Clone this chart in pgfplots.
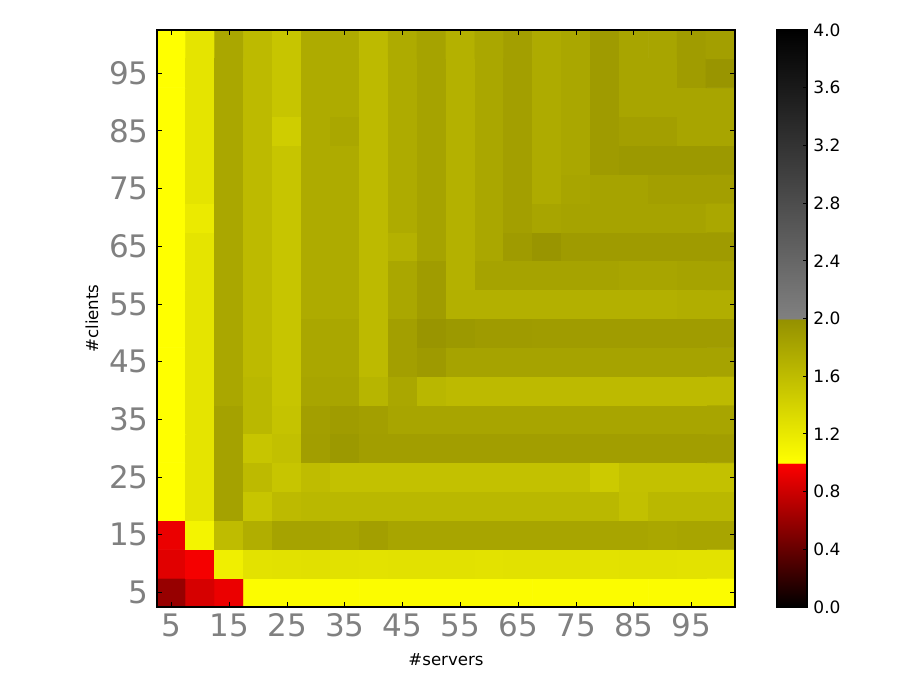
\documentclass[border=0pt]{standalone}
\usepackage{pgfplots}
\pgfplotsset{compat=1.18}
\usepackage{fontspec}
\setmainfont{DejaVu Sans}
\definecolor{tickgray}{RGB}{128,128,128}

\begin{document}
\begin{tikzpicture}
\fill[white, use as bounding box] (-78.5pt,-41.5pt) rectangle (381.5pt,303.5pt);
\begin{axis}[
  at={(0,0)}, anchor=south west,
  scale only axis, width=289pt, height=288.5pt,
  xmin=2.5, xmax=102.5, ymin=2.5, ymax=102.5,
  xtick={5,15,25,35,45,55,65,75,85,95}, ytick={5,15,25,35,45,55,65,75,85,95},
  xticklabels={5,15,25,35,45,55,65,75,85,95},
  yticklabels={5,15,25,35,45,55,65,75,85,95},
  /pgf/number format/assume math mode=true,
  tick align=inside, major tick length=2.5pt,
  tick style={black, line width=0.5pt},
  axis line style={line width=0.65pt},
  ticklabel style={font=\fontsize{15.5}{16}\selectfont, text=tickgray},
  xticklabel style={inner xsep=0pt, inner ysep=3pt},
  yticklabel style={inner ysep=0pt, inner xsep=4pt},
  xlabel={\#servers}, ylabel={\#clients},
  label style={font=\fontsize{8.3}{9}\selectfont},
  xlabel style={at={(axis description cs:0.5,-0.0919)}, anchor=center},
  ylabel style={at={(axis description cs:-0.1125,0.5)}, anchor=center},
  axis on top,
  colormap={hm}{rgb255(0pt)=(0,0,0); rgb255(999pt)=(255,0,0); rgb255(1000pt)=(255,255,0); rgb255(1999pt)=(148,144,0); rgb255(2000pt)=(128,128,128); rgb255(4000pt)=(0,0,0)},
  point meta min=0, point meta max=4,
  colorbar right,
  colorbar style={
    at={(parent axis.north east)}, anchor=north west, xshift=12.5pt,
    scale only axis, width=15pt, height=288.5pt,
    ytick={0,0.4,0.8,1.2,1.6,2.0,2.4,2.8,3.2,3.6,4.0},
    yticklabels={0.0,0.4,0.8,1.2,1.6,2.0,2.4,2.8,3.2,3.6,4.0},
    ytick pos=right, yticklabel pos=right,
    tick align=inside, major tick length=2pt,
    axis line style={line width=0.65pt},
    yticklabel style={font=\fontsize{8.5}{10}\selectfont, text=black, inner xsep=3pt, inner ysep=0pt},
  },
]
\addplot[matrix plot*, mesh/cols=20, point meta=explicit] coordinates {
(5,5)[0.59] (10,5)[0.84] (15,5)[0.92] (20,5)[1.03] (25,5)[1.03] (30,5)[1.03] (35,5)[1.03] (40,5)[1.03] (45,5)[1.03] (50,5)[1.03] (55,5)[1.03] (60,5)[1.03] (65,5)[1.03] (70,5)[1.03] (75,5)[1.03] (80,5)[1.03] (85,5)[1.03] (90,5)[1.03] (95,5)[1.03] (100,5)[1.03]
(5,10)[0.88] (10,10)[0.96] (15,10)[1.14] (20,10)[1.26] (25,10)[1.27] (30,10)[1.28] (35,10)[1.27] (40,10)[1.26] (45,10)[1.27] (50,10)[1.27] (55,10)[1.27] (60,10)[1.26] (65,10)[1.27] (70,10)[1.27] (75,10)[1.27] (80,10)[1.26] (85,10)[1.27] (90,10)[1.27] (95,10)[1.26] (100,10)[1.26]
(5,15)[0.92] (10,15)[1.10] (15,15)[1.60] (20,15)[1.73] (25,15)[1.83] (30,15)[1.83] (35,15)[1.81] (40,15)[1.86] (45,15)[1.81] (50,15)[1.81] (55,15)[1.81] (60,15)[1.81] (65,15)[1.81] (70,15)[1.81] (75,15)[1.81] (80,15)[1.81] (85,15)[1.81] (90,15)[1.79] (95,15)[1.81] (100,15)[1.81]
(5,20)[1.00] (10,20)[1.24] (15,20)[1.84] (20,20)[1.52] (25,20)[1.62] (30,20)[1.64] (35,20)[1.64] (40,20)[1.64] (45,20)[1.64] (50,20)[1.64] (55,20)[1.64] (60,20)[1.64] (65,20)[1.64] (70,20)[1.64] (75,20)[1.64] (80,20)[1.64] (85,20)[1.57] (90,20)[1.64] (95,20)[1.64] (100,20)[1.64]
(5,25)[1.00] (10,25)[1.24] (15,25)[1.84] (20,25)[1.62] (25,25)[1.52] (30,25)[1.60] (35,25)[1.56] (40,25)[1.56] (45,25)[1.56] (50,25)[1.56] (55,25)[1.56] (60,25)[1.56] (65,25)[1.56] (70,25)[1.56] (75,25)[1.56] (80,25)[1.48] (85,25)[1.56] (90,25)[1.56] (95,25)[1.56] (100,25)[1.56]
(5,30)[1.00] (10,30)[1.24] (15,30)[1.84] (20,30)[1.52] (25,30)[1.57] (30,30)[1.87] (35,30)[1.92] (40,30)[1.87] (45,30)[1.87] (50,30)[1.87] (55,30)[1.87] (60,30)[1.87] (65,30)[1.87] (70,30)[1.87] (75,30)[1.87] (80,30)[1.87] (85,30)[1.87] (90,30)[1.87] (95,30)[1.87] (100,30)[1.87]
(5,35)[1.00] (10,35)[1.24] (15,35)[1.84] (20,35)[1.64] (25,35)[1.54] (30,35)[1.86] (35,35)[1.89] (40,35)[1.86] (45,35)[1.81] (50,35)[1.81] (55,35)[1.81] (60,35)[1.81] (65,35)[1.81] (70,35)[1.81] (75,35)[1.81] (80,35)[1.81] (85,35)[1.81] (90,35)[1.81] (95,35)[1.81] (100,35)[1.81]
(5,40)[1.00] (10,40)[1.24] (15,40)[1.79] (20,40)[1.64] (25,40)[1.52] (30,40)[1.81] (35,40)[1.81] (40,40)[1.67] (45,40)[1.79] (50,40)[1.65] (55,40)[1.62] (60,40)[1.62] (65,40)[1.62] (70,40)[1.62] (75,40)[1.62] (80,40)[1.62] (85,40)[1.62] (90,40)[1.62] (95,40)[1.62] (100,40)[1.62]
(5,45)[1.00] (10,45)[1.24] (15,45)[1.79] (20,45)[1.62] (25,45)[1.52] (30,45)[1.79] (35,45)[1.79] (40,45)[1.62] (45,45)[1.86] (50,45)[1.91] (55,45)[1.83] (60,45)[1.83] (65,45)[1.83] (70,45)[1.83] (75,45)[1.83] (80,45)[1.83] (85,45)[1.83] (90,45)[1.83] (95,45)[1.83] (100,45)[1.83]
(5,50)[1.00] (10,50)[1.24] (15,50)[1.79] (20,50)[1.62] (25,50)[1.52] (30,50)[1.79] (35,50)[1.79] (40,50)[1.62] (45,50)[1.86] (50,50)[1.95] (55,50)[1.92] (60,50)[1.90] (65,50)[1.90] (70,50)[1.89] (75,50)[1.89] (80,50)[1.89] (85,50)[1.89] (90,50)[1.89] (95,50)[1.89] (100,50)[1.89]
(5,55)[1.00] (10,55)[1.24] (15,55)[1.79] (20,55)[1.62] (25,55)[1.52] (30,55)[1.76] (35,55)[1.76] (40,55)[1.62] (45,55)[1.79] (50,55)[1.89] (55,55)[1.71] (60,55)[1.71] (65,55)[1.71] (70,55)[1.71] (75,55)[1.71] (80,55)[1.71] (85,55)[1.71] (90,55)[1.71] (95,55)[1.73] (100,55)[1.73]
(5,60)[1.00] (10,60)[1.24] (15,60)[1.79] (20,60)[1.62] (25,60)[1.52] (30,60)[1.76] (35,60)[1.76] (40,60)[1.62] (45,60)[1.79] (50,60)[1.89] (55,60)[1.70] (60,60)[1.83] (65,60)[1.83] (70,60)[1.83] (75,60)[1.83] (80,60)[1.83] (85,60)[1.81] (90,60)[1.81] (95,60)[1.83] (100,60)[1.83]
(5,65)[1.00] (10,65)[1.24] (15,65)[1.79] (20,65)[1.62] (25,65)[1.52] (30,65)[1.76] (35,65)[1.76] (40,65)[1.62] (45,65)[1.70] (50,65)[1.83] (55,65)[1.70] (60,65)[1.79] (65,65)[1.90] (70,65)[1.95] (75,65)[1.90] (80,65)[1.90] (85,65)[1.90] (90,65)[1.90] (95,65)[1.90] (100,65)[1.90]
(5,70)[1.00] (10,70)[1.19] (15,70)[1.79] (20,70)[1.62] (25,70)[1.52] (30,70)[1.76] (35,70)[1.76] (40,70)[1.62] (45,70)[1.76] (50,70)[1.83] (55,70)[1.70] (60,70)[1.79] (65,70)[1.86] (70,70)[1.81] (75,70)[1.83] (80,70)[1.83] (85,70)[1.83] (90,70)[1.83] (95,70)[1.83] (100,70)[1.79]
(5,75)[1.00] (10,75)[1.24] (15,75)[1.79] (20,75)[1.62] (25,75)[1.52] (30,75)[1.76] (35,75)[1.76] (40,75)[1.62] (45,75)[1.76] (50,75)[1.83] (55,75)[1.70] (60,75)[1.79] (65,75)[1.86] (70,75)[1.76] (75,75)[1.81] (80,75)[1.83] (85,75)[1.83] (90,75)[1.86] (95,75)[1.86] (100,75)[1.86]
(5,80)[1.00] (10,80)[1.24] (15,80)[1.79] (20,80)[1.62] (25,80)[1.52] (30,80)[1.76] (35,80)[1.76] (40,80)[1.62] (45,80)[1.76] (50,80)[1.83] (55,80)[1.70] (60,80)[1.79] (65,80)[1.86] (70,80)[1.76] (75,80)[1.79] (80,80)[1.90] (85,80)[1.92] (90,80)[1.92] (95,80)[1.92] (100,80)[1.92]
(5,85)[1.00] (10,85)[1.24] (15,85)[1.79] (20,85)[1.62] (25,85)[1.45] (30,85)[1.76] (35,85)[1.79] (40,85)[1.62] (45,85)[1.76] (50,85)[1.83] (55,85)[1.70] (60,85)[1.79] (65,85)[1.86] (70,85)[1.76] (75,85)[1.79] (80,85)[1.90] (85,85)[1.86] (90,85)[1.86] (95,85)[1.81] (100,85)[1.81]
(5,90)[1.00] (10,90)[1.24] (15,90)[1.79] (20,90)[1.62] (25,90)[1.52] (30,90)[1.76] (35,90)[1.76] (40,90)[1.62] (45,90)[1.76] (50,90)[1.83] (55,90)[1.70] (60,90)[1.79] (65,90)[1.86] (70,90)[1.76] (75,90)[1.79] (80,90)[1.90] (85,90)[1.81] (90,90)[1.81] (95,90)[1.81] (100,90)[1.81]
(5,95)[1.00] (10,95)[1.24] (15,95)[1.79] (20,95)[1.62] (25,95)[1.52] (30,95)[1.76] (35,95)[1.76] (40,95)[1.62] (45,95)[1.76] (50,95)[1.83] (55,95)[1.70] (60,95)[1.79] (65,95)[1.86] (70,95)[1.76] (75,95)[1.79] (80,95)[1.90] (85,95)[1.81] (90,95)[1.81] (95,95)[1.89] (100,95)[1.95]
(5,100)[1.00] (10,100)[1.24] (15,100)[1.79] (20,100)[1.62] (25,100)[1.52] (30,100)[1.76] (35,100)[1.76] (40,100)[1.62] (45,100)[1.76] (50,100)[1.83] (55,100)[1.70] (60,100)[1.79] (65,100)[1.86] (70,100)[1.76] (75,100)[1.79] (80,100)[1.90] (85,100)[1.81] (90,100)[1.81] (95,100)[1.89] (100,100)[1.86]
};
\end{axis}
\end{tikzpicture}
\end{document}
